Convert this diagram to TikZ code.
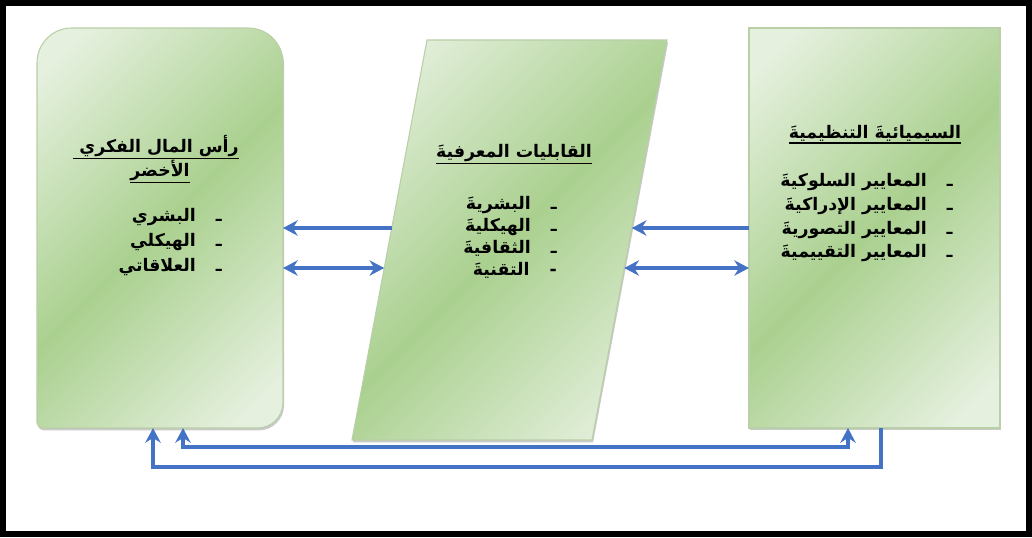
\documentclass[tikz,border=0pt]{standalone}
\usepackage{fontspec}
\usetikzlibrary{arrows.meta,calc,shadows}
\TeXXeTstate=1
\newfontfamily\arabicfont[Script=Arabic]{DejaVu Sans}

\definecolor{boxlight}{RGB}{229,240,222}
\definecolor{boxgreen}{RGB}{170,208,143}
\definecolor{boxedge}{RGB}{185,207,167}
\definecolor{linkblue}{RGB}{68,114,196}

% light - green - light band, turned so the green runs corner to corner
\pgfdeclarehorizontalshading{leafshade}{100bp}{%
  color(0bp)=(boxlight); color(20bp)=(boxlight); color(50bp)=(boxgreen);
  color(80bp)=(boxlight); color(100bp)=(boxlight)}

\tikzset{
  boxfill/.style={shading=leafshade, shading angle=-45, draw=boxedge, line width=0.8pt,
    drop shadow={shadow xshift=0.8pt, shadow yshift=-1.8pt, opacity=0.35, fill=black!60}},
  boxnode/.style={inner sep=0pt, outer sep=0pt},
  tip/.tip={Stealth[length=11pt,width=11.5pt]},
  link/.style={draw=linkblue, line width=3pt, -tip},
  twoway/.style={draw=linkblue, line width=3pt, tip-tip},
  heading/.style={anchor=base, inner sep=0pt, font=\arabicfont\bfseries\fontsize{13}{16}\selectfont},
  entry/.style={anchor=base east, inner sep=0pt, font=\arabicfont\bfseries\fontsize{13}{16}\selectfont},
}
\newcommand\rtl[1]{\beginR #1\endR}
\newcommand\uline[1]{\vtop{\hbox{#1}\kern1.2pt\hrule height 1pt}}
\newcommand\bullettext[1]{\beginR ـ\hspace{15pt}#1\endR}

\begin{document}
\begin{tikzpicture}[x=0.75pt, y=-0.75pt]
\useasboundingbox (0,0) rectangle (1032,537);
\fill[white] (0,0) rectangle (1032,537);
\draw[line width=4.5pt] (3,3) rectangle (1029,534);

% left block: green intellectual capital
\node[boxnode, minimum width=184.5pt, minimum height=300pt] (capital) at (160,228) {};
\path[boxfill] (capital.west)
  {[rounded corners=26pt] -- (capital.north west) -- (capital.north east) -- (capital.east)}
  {[rounded corners=19pt] -- (capital.south east) -- (capital.south)}
  {[rounded corners=4pt] -- (capital.south west) -- (capital.west)} -- cycle;

% middle block: knowledge capabilities (parallelogram)
\coordinate (kTL) at (427,40);
\coordinate (kTR) at (667,40);
\coordinate (kBR) at (592,440);
\coordinate (kBL) at (352,440);
\path[boxfill] (kTL) -- (kTR) -- (kBR) -- (kBL) -- cycle;

% right block: organisational semiotics
\node[boxnode, minimum width=188.25pt, minimum height=300pt] (semio) at (874.5,228) {};
\path[boxfill] (semio.north west) rectangle (semio.south east);

% texts of the left block
\node[heading] (capT1) at (156,152) {\uline{\rtl{رأس المال الفكري\ }}};
\node[heading] (capT2) at (160,176) {\uline{\rtl{الأخضر}}};
\node[entry] (cap1) at (222,221) {\bullettext{البشري}};
\node[entry] (cap2) at (222,246) {\bullettext{الهيكلي}};
\node[entry] (cap3) at (222,271) {\bullettext{العلاقاتي}};

% texts of the middle block
\node[heading] (skT) at (514,157) {\uline{\rtl{القابليات المعرفيةَ}}};
\node[entry] (sk1) at (557,209) {\bullettext{البشريةَ}};
\node[entry] (sk2) at (557,231) {\bullettext{الهيكليةَ}};
\node[entry] (sk3) at (557,253) {\bullettext{الثقافيةَ}};
\node[entry] (sk4) at (557,275) {\beginR -\hspace{15pt}التقنيةَ\endR};

% texts of the right block
\node[heading] (seT) at (875,138) {\uline{\rtl{السيميائيةَ التنظيميةَ}}};
\node[entry] (se1) at (953,186) {\bullettext{المعايير السلوكيةَ}};
\node[entry] (se2) at (953,210) {\bullettext{المعايير الإدراكيةَ}};
\node[entry] (se3) at (953,234) {\bullettext{المعايير التصوريةَ}};
\node[entry] (se4) at (953,257) {\bullettext{المعايير التقييميةَ}};

% points on the slanted sides of the middle block
\coordinate (pL1) at ($(kTL)!0.47!(kBL)$);
\coordinate (pL2) at ($(kTL)!0.57!(kBL)$);
\coordinate (pR1) at ($(kTR)!0.47!(kBR)$);
\coordinate (pR2) at ($(kTR)!0.57!(kBR)$);

% horizontal links
\draw[link] (pL1) -- (capital.east |- pL1);
\draw[twoway] (capital.east |- pL2) -- (pL2);
\draw[link] (semio.west |- pR1) -- (pR1);
\draw[twoway] (pR2) -- (semio.west |- pR2);

% feedback loops under the blocks
\coordinate (outR) at (881,467);
\coordinate (outL) at (153,467);
\coordinate (inL) at (183,447);
\coordinate (inR) at (848,447);
\draw[link] (outR |- semio.south) -- (outR) -- (outL) -- (outL |- capital.south);
\draw[twoway] (inL |- capital.south) -- (inL) -- (inR) -- (inR |- semio.south);
\end{tikzpicture}
\end{document}
